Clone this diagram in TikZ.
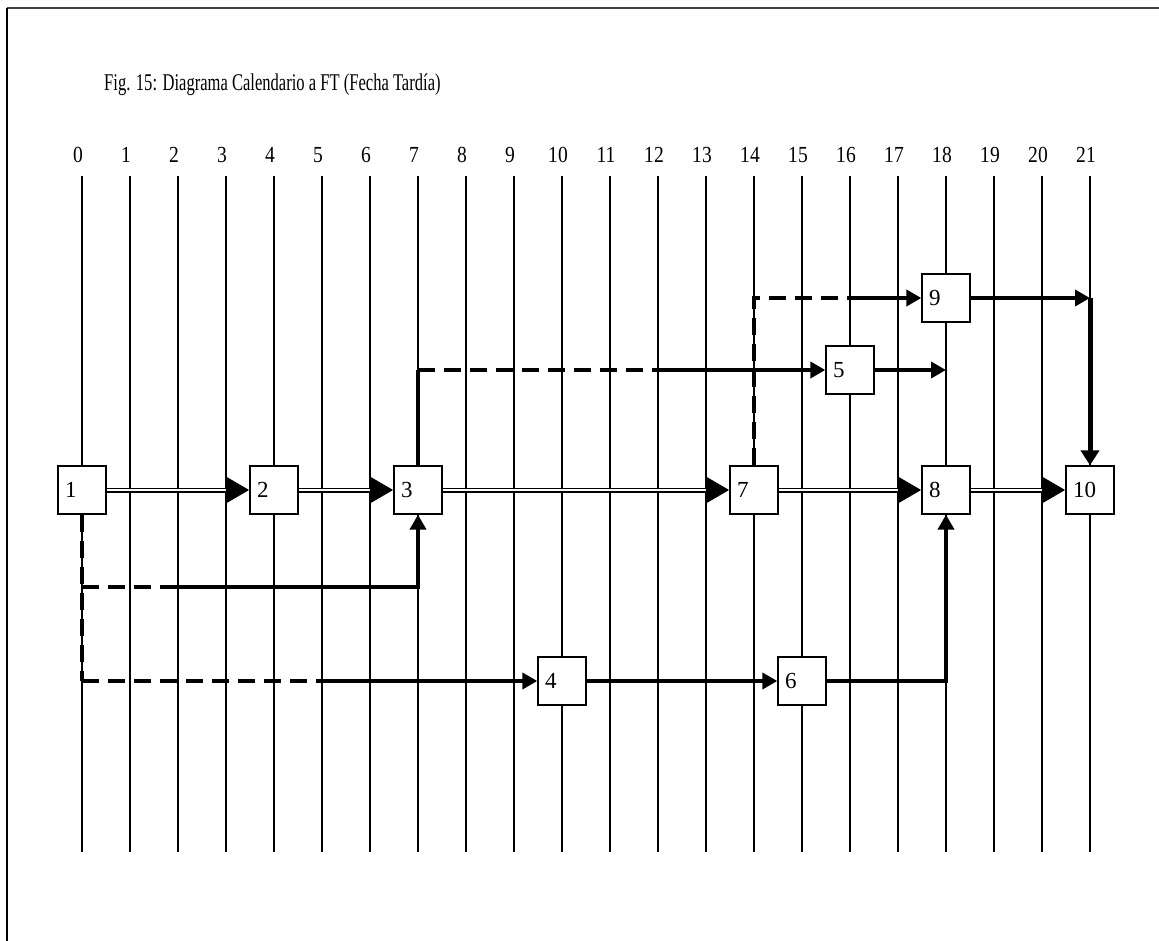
\documentclass[tikz,border=0pt]{standalone}
\usepackage{fontspec}
\usepackage{graphicx}
\setmainfont{Liberation Serif}
\usetikzlibrary{arrows.meta}
\newcommand{\narrowtxt}[2]{\scalebox{#1}[1]{#2}}
\begin{document}
\begin{tikzpicture}[x=1pt,y=-1pt,
  grid/.style={line width=1.3pt},
  box/.style={draw, line width=1.3pt, fill=white, minimum width=48pt, minimum height=48pt,
    inner xsep=7pt, inner ysep=0pt, text width=34pt, align=left,
    font=\fontsize{23}{23}\selectfont},
  tick/.style={font=\fontsize{23}{23}\selectfont},
  crit/.style={line width=5pt, -{Triangle[length=23pt,width=25pt]},
    postaction={draw=white, line width=1.1pt, -, shorten >=23pt}},
  arr/.style={line width=4pt, -{Triangle[length=15pt,width=16pt]}},
  solid4/.style={line width=4pt},
  dsh/.style={line width=4pt, dash pattern=on 17pt off 9pt}
]
\useasboundingbox (0,0) rectangle (1159,941);
\draw[line width=2pt, black!75] (1159,8) -- (7,8);
\draw[line width=2.2pt] (7,8) -- (7,941);
\node[anchor=west, inner sep=0pt, font=\fontsize{24}{24}\selectfont] (title) at (104,85) {\narrowtxt{0.69}{Fig. 15: Diagrama Calendario a FT (Fecha Tardía)}};
% time grid
\foreach \i in {0,...,21} {
  \node[tick] (t\i) at ({78+48*\i},155) {\narrowtxt{0.85}{\i}};
  \draw[grid] ({82+48*\i},176) -- ({82+48*\i},852);
}
% event nodes
\node[box] (n1) at (82,490) {1};
\node[box] (n2) at (274,490) {2};
\node[box] (n3) at (418,490) {3};
\node[box] (n7) at (754,490) {7};
\node[box] (n8) at (946,490) {8};
\node[box] (n10) at (1090,490) {10};
\node[box] (n9) at (946,298) {9};
\node[box] (n5) at (850,370) {5};
\node[box] (n4) at (562,681) {4};
\node[box] (n6) at (802,681) {6};
% auxiliary coordinates
\coordinate (a1) at (82,587);
\coordinate (a2) at (167,587);
\coordinate (b1) at (82,681);
\coordinate (b2) at (322,681);
\coordinate (c1) at (418,370);
\coordinate (c2) at (655,370);
\coordinate (d1) at (946,370);
\coordinate (e1) at (754,298);
\coordinate (e2) at (850,298);
\coordinate (f1) at (1090,298);
% critical path
\draw[crit] (n1) -- (n2);
\draw[crit] (n2) -- (n3);
\draw[crit] (n3) -- (n7);
\draw[crit] (n7) -- (n8);
\draw[crit] (n8) -- (n10);
% 1 -> 3 and 1 -> 4
\draw[dsh] (n1.south) -- (b1);
\draw[dsh] (a1) -- (a2);
\draw[arr] (a2) -| (n3.south);
\draw[dsh] (b1) -- (b2);
\draw[arr] (b2) -- (n4.west);
\draw[arr] (n4) -- (n6);
\draw[arr] (n6.east) -| (n8.south);
% 3 -> 5
\draw[solid4] (n3.north) -- (c1);
\draw[dsh] (c1) -- (c2);
\draw[arr] (c2) -- (n5.west);
\draw[arr] (n5.east) -- (d1);
% 7 -> 9 -> 10
\draw[dsh] (n7.north) -- (e1) -- (e2);
\draw[arr] (e2) -- (n9.west);
\draw[arr] (n9.east) -- (f1);
\draw[line width=5pt, -{Triangle[length=15pt,width=18pt]}] (f1) -- (n10.north);
\end{tikzpicture}
\end{document}
